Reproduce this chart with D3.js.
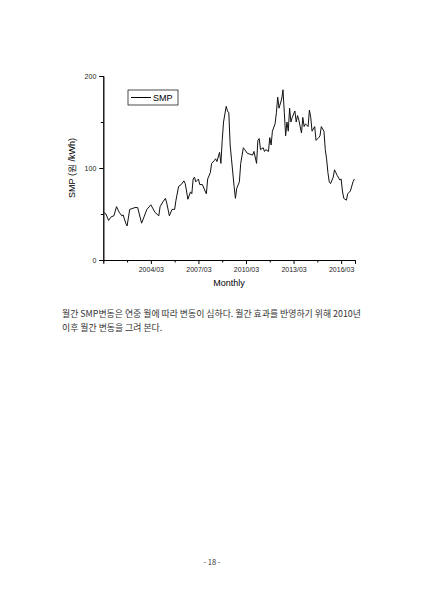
<!DOCTYPE html><html><head><meta charset="utf-8"><script src="https://cdn.jsdelivr.net/npm/d3@7"></script>
<style>body{margin:0;background:#fff}svg{font-family:Arial,"Liberation Sans",sans-serif}</style></head><body><svg width="424" height="599"></svg>
<script>
// months since 2001/03
const months=[0,2,4,6,8,10,12,14,15,17,18,20,24,26,29,33,36,39,42,43,45,47,48,50,52,54,55,57,59,61,62,63,64,66,67,68,69,70,72,73,75,77,78,79,81,82,84,85,86,88,89,90,91,93,94,95,96,97,99,100,101,103,104,106,107,109,111,113,114,116,117,118,119,121,122,123,125,126,127,128,130,131,132,133,135,136,137,138,139,140,141,142,143,145,146,147,148,150,151,152,153,155,156,157,158,160,161,163,164,165,167,168,169,170,171,172,174,175,176,177,179,180,181,182,184,185,187,189,190];
const smp=[52,50,43,47,48,58,52,48,49,40,37,55,57,57,40,55,60,52,48,58,63,67,62,48,55,55,65,80,82,86,83,75,66,74,72,88,90,85,88,82,82,75,72,88,95,105,108,110,107,117,105,130,150,167,162,160,125,110,80,67,78,85,105,122,120,116,115,114,118,105,130,132,120,122,118,120,118,133,125,140,148,160,177,165,175,185,160,135,150,140,165,150,155,162,150,157,152,138,155,145,148,145,163,155,140,145,130,133,135,145,140,120,110,95,85,83,90,98,95,92,87,88,75,67,65,72,75,85,88];
const tickMonths=[36,72,108,144,180];
const tickLabels=["2004/03","2007/03","2010/03","2013/03","2016/03"];
const yTicks=[0,100,200];
const svg=d3.select("svg");
const x=d3.scaleLinear().domain([0,190.5]).range([103.3,355]);
const y=d3.scaleLinear().domain([0,200]).range([260,76]);
const g=svg.append("g");
g.append("g").attr("transform","translate(0,260)").call(d3.axisBottom(x).tickValues(tickMonths).tickFormat((d,i)=>tickLabels[i]).tickSize(4).tickPadding(3));
g.append("g").attr("transform","translate(0,260)").call(d3.axisBottom(x).tickValues(d3.range(18,190,36)).tickFormat("").tickSize(2.5));
g.append("g").attr("transform","translate(103.3,0)").call(d3.axisLeft(y).tickValues(yTicks).tickSize(4).tickPadding(3));
g.append("g").attr("transform","translate(103.3,0)").call(d3.axisLeft(y).tickValues([50,150]).tickFormat("").tickSize(2.5));
g.selectAll(".domain").attr("stroke","#000").attr("stroke-width",0.9);
g.selectAll("text").attr("fill","#222").attr("font-size",7);
svg.append("path").datum(months.map((m,i)=>[m,smp[i]])).attr("fill","none").attr("stroke","#111").attr("stroke-width",1)
 .attr("d",d3.line().x(d=>x(d[0])).y(d=>y(d[1])));
svg.append("rect").attr("x",128).attr("y",90).attr("width",50).attr("height",15).attr("fill","#fff").attr("stroke","#000").attr("stroke-width",0.7);
svg.append("line").attr("x1",131).attr("x2",151).attr("y1",97.5).attr("y2",97.5).attr("stroke","#000");
svg.append("text").attr("x",153).attr("y",101).attr("font-size",9).text("SMP");
svg.append("text").attr("x",229).attr("y",286).attr("text-anchor","middle").attr("font-size",9).text("Monthly");
svg.append("text").attr("transform","translate(75,168) rotate(-90)").attr("text-anchor","middle").attr("font-size",9).text("SMP (원 /kWh)");
const kf='"Noto Sans CJK KR",sans-serif';
svg.append("text").attr("x",62).attr("y",317).attr("font-size",8.9).attr("font-family",kf).attr("fill","#333").text("월간 SMP변동은 연중 월에 따라 변동이 심하다. 월간 효과를 반영하기 위해 2010년");
svg.append("text").attr("x",62).attr("y",331).attr("font-size",8.9).attr("font-family",kf).attr("fill","#333").text("이후 월간 변동을 그려 본다.");
svg.append("text").attr("x",212).attr("y",565).attr("text-anchor","middle").attr("font-size",7.5).attr("font-family",kf).attr("fill","#333").text("- 18 -");
</script></body></html>
